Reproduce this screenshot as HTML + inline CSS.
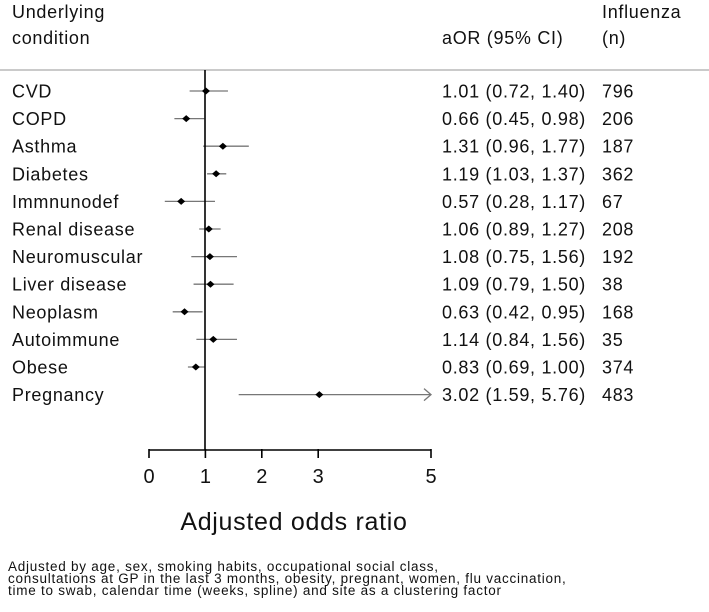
<!DOCTYPE html>
<html><head><meta charset="utf-8"><style>
body{margin:0;background:#fff;font-family:"Liberation Sans",sans-serif;color:#111}
svg text{font-family:"Liberation Sans",sans-serif;fill:#111}
.t{letter-spacing:0.7px}
</style></head><body>
<svg width="709" height="607">
<g font-size="18" class="t">
<text x="12" y="18">Underlying</text>
<text x="12" y="44">condition</text>
<text x="442" y="44">aOR (95% CI)</text>
<text x="602" y="18">Influenza</text>
<text x="602" y="44">(n)</text>
</g>
<line x1="0" y1="70" x2="709" y2="70" stroke="#aaa" stroke-width="1.3"/>
<g id="rows"></g>
<line x1="205" y1="70" x2="205" y2="450" stroke="#000" stroke-width="1.6"/>
<g id="axis"></g>
<text x="294" y="530" font-size="25" letter-spacing="0.7" text-anchor="middle">Adjusted odds ratio</text>
<g font-size="13.5" letter-spacing="0.75">
<text x="8" y="571">Adjusted by age, sex, smoking habits, occupational social class,</text>
<text x="8" y="583">consultations at GP in the last 3 months, obesity, pregnant, women, flu vaccination,</text>
<text x="8" y="595">time to swab, calendar time (weeks, spline) and site as a clustering factor</text>
</g>
</svg>
<script>
const categories=["CVD","COPD","Asthma","Diabetes","Immnunodef","Renal disease","Neuromuscular","Liver disease","Neoplasm","Autoimmune","Obese","Pregnancy"];
const aor=[1.01,0.66,1.31,1.19,0.57,1.06,1.08,1.09,0.63,1.14,0.83,3.02];
const lower=[0.72,0.45,0.96,1.03,0.28,0.89,0.75,0.79,0.42,0.84,0.69,1.59];
const upper=[1.40,0.98,1.77,1.37,1.17,1.27,1.56,1.50,0.95,1.56,1.00,5.76];
const counts=[796,206,187,362,67,208,192,38,168,35,374,483];
const ticks=[0,1,2,3,5];
const NS="http://www.w3.org/2000/svg";
const xMax=5;
const x=v=>149+v*56.4;
const y=i=>91+i*27.6;
function mk(t,a,p){const e=document.createElementNS(NS,t);for(const k in a)e.setAttribute(k,a[k]);p.appendChild(e);return e;}
const rows=document.getElementById('rows');
categories.forEach((c,i)=>{
 const yy=y(i);
 const lab=mk('text',{x:12,y:yy+6.5,'font-size':18,'class':'t'},rows);lab.textContent=c;
 
 
 const hi=Math.min(upper[i],xMax);
 const ln=mk('line',{x1:x(lower[i]),x2:x(hi),y1:yy,y2:yy,stroke:'#777','stroke-width':1.3},rows);
 
 
 if(upper[i]>xMax){
  const ar=mk('polyline',{points:`${x(xMax)-7},${yy-6} ${x(xMax)},${yy} ${x(xMax)-7},${yy+6}`,fill:'none',stroke:'#777','stroke-width':1.3},rows);
  
  
 }
 const px=x(aor[i]);
 const pt=mk('polygon',{points:`${px-4},${yy} ${px},${yy-3.5} ${px+4},${yy} ${px},${yy+3.5}`,fill:'#000'},rows);
 
 
 const t=mk('text',{x:442,y:yy+6.5,'font-size':18,'class':'t'},rows);
 t.textContent=`${aor[i].toFixed(2)} (${lower[i].toFixed(2)}, ${upper[i].toFixed(2)})`;
 
 
 const n=mk('text',{x:602,y:yy+6.5,'font-size':18,'class':'t'},rows);n.textContent=counts[i];
 
 
});
const ax=document.getElementById('axis');
mk('line',{x1:x(ticks[0]),x2:x(ticks[ticks.length-1]),y1:450,y2:450,stroke:'#000','stroke-width':1.6},ax);
ticks.forEach(v=>{
 const tk=mk('line',{x1:x(v),x2:x(v),y1:449,y2:458,stroke:'#000','stroke-width':1.6},ax);
 
 
 const tl=mk('text',{x:x(v),y:483,'font-size':20,'text-anchor':'middle'},ax);tl.textContent=v;
 
 
});
</script>
</body></html>
